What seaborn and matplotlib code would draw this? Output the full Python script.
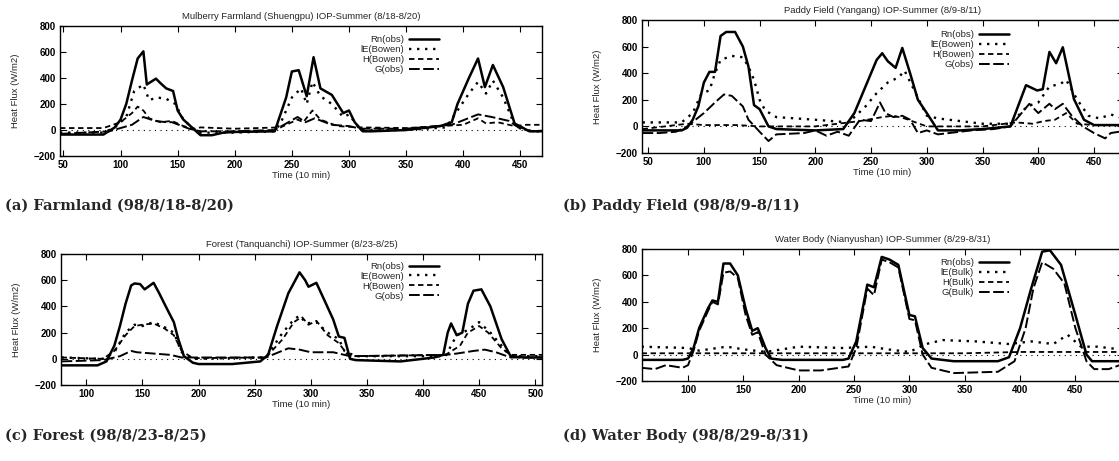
import matplotlib
matplotlib.use("Agg")
import matplotlib.pyplot as plt
import seaborn as sns
import pandas as pd

# ---------------- data ----------------
# Panel (a) Mulberry Farmland
A_RN_T = [47, 85, 95, 100, 105, 110, 115, 120, 123, 131, 135, 140, 146, 150, 155, 165, 170, 180, 190, 200, 235, 240, 245, 250, 256, 263, 269, 275, 285, 295, 300, 305, 312, 320, 350, 380, 390, 395, 405, 413, 419, 426, 435, 445, 458, 480]
A_RN = [-35, -35, 20, 80, 200, 380, 550, 605, 350, 395, 360, 320, 300, 150, 80, 0, -40, -40, -20, -15, -10, 120, 250, 450, 460, 260, 560, 320, 270, 130, 150, 60, -10, -10, 0, 30, 60, 200, 400, 550, 330, 500, 330, 50, -10, -10]
A_LE_T = [47, 85, 95, 105, 112, 120, 125, 132, 140, 148, 155, 165, 170, 200, 235, 240, 250, 258, 263, 268, 275, 285, 295, 300, 310, 350, 385, 395, 405, 413, 420, 426, 435, 445, 460, 480]
A_LE = [-20, -20, 20, 100, 300, 350, 230, 250, 240, 200, 80, 0, -20, -20, -10, 50, 250, 320, 200, 370, 260, 200, 100, 120, 0, 0, 20, 150, 280, 370, 280, 380, 250, 40, -10, -10]
A_H_T = [47, 85, 100, 110, 115, 120, 125, 135, 145, 155, 165, 170, 200, 240, 255, 260, 268, 275, 290, 310, 350, 400, 413, 420, 430, 445, 455, 480]
A_H = [15, 15, 60, 130, 180, 150, 90, 60, 70, 30, 10, 20, 10, 20, 80, 60, 150, 80, 30, 20, 15, 40, 90, 50, 60, 30, 40, 40]
A_G_T = [47, 90, 110, 120, 130, 140, 145, 160, 170, 200, 235, 255, 262, 270, 285, 300, 310, 350, 390, 413, 425, 440, 450, 460, 480]
A_G = [-30, -10, 40, 100, 70, 60, 60, 10, -10, -10, 0, 100, 60, 90, 40, 30, 10, 10, 40, 120, 100, 70, 10, -10, 0]

# Panel (b) Paddy Field
B_RN_T = [45, 80, 85, 90, 95, 100, 105, 110, 115, 120, 128, 135, 140, 145, 150, 158, 165, 200, 225, 235, 245, 255, 260, 265, 272, 278, 285, 292, 300, 310, 330, 350, 375, 389, 399, 404, 410, 416, 422, 432, 441, 450, 480]
B_RN = [-30, -30, -10, 50, 150, 330, 410, 410, 680, 710, 710, 600, 450, 160, 130, 0, -20, -30, -20, 100, 300, 500, 550, 490, 440, 590, 400, 200, 100, -30, -30, -20, 0, 310, 270, 280, 560, 475, 595, 205, 50, 10, 10]
B_LE_T = [45, 80, 90, 98, 105, 110, 115, 125, 135, 140, 145, 150, 155, 165, 200, 230, 245, 255, 265, 275, 280, 290, 300, 310, 350, 375, 390, 400, 410, 420, 425, 435, 445, 455, 465, 480]
B_LE = [30, 30, 100, 250, 270, 400, 500, 530, 520, 450, 350, 200, 120, 70, 50, 30, 150, 250, 330, 370, 420, 250, 80, 60, 20, 20, 150, 180, 300, 320, 350, 200, 80, 60, 90, 50]
B_H_T = [45, 85, 100, 130, 150, 200, 240, 260, 270, 280, 300, 350, 380, 395, 405, 415, 425, 435, 450, 480]
B_H = [-20, 20, 10, 10, 0, 0, 40, 70, 80, 60, 0, 0, 30, 20, 40, 50, 100, 20, 10, 10]
B_G_T = [45, 60, 75, 85, 100, 110, 118, 125, 135, 140, 150, 158, 165, 190, 200, 210, 220, 230, 240, 250, 258, 263, 270, 278, 285, 292, 300, 310, 320, 340, 360, 375, 385, 392, 400, 410, 415, 422, 430, 440, 450, 460, 465, 480]
B_G = [-50, -50, -40, 0, 100, 180, 240, 230, 150, 50, -40, -110, -60, -50, -30, -70, -40, -70, 50, 40, 180, 100, 70, 80, 50, -50, -30, -60, -50, -30, -20, 0, 100, 170, 100, 170, 130, 170, 80, 0, -50, -90, -50, -30]

# Panel (c) Forest
C_RN_T = [78, 110, 118, 125, 130, 135, 140, 143, 148, 152, 160, 165, 172, 178, 182, 187, 195, 200, 230, 255, 262, 270, 280, 290, 295, 298, 305, 312, 320, 325, 330, 335, 340, 380, 410, 418, 422, 425, 430, 435, 440, 445, 452, 460, 470, 478, 490, 506]
C_RN = [-50, -50, -20, 100, 250, 420, 560, 575, 570, 530, 580, 500, 380, 280, 150, 20, -30, -40, -40, -20, 30, 250, 500, 660, 600, 550, 580, 450, 300, 170, 160, 0, -10, -20, 10, 30, 200, 270, 180, 200, 420, 520, 530, 400, 150, 20, 10, 10]
C_LE_T = [78, 115, 125, 135, 143, 150, 160, 170, 178, 185, 195, 260, 275, 285, 290, 296, 305, 315, 325, 330, 340, 420, 430, 440, 450, 460, 470, 478, 506]
C_LE = [10, 0, 50, 200, 260, 250, 280, 240, 200, 50, 0, 10, 200, 300, 330, 270, 280, 200, 150, 60, 20, 20, 180, 220, 280, 200, 100, 20, 20]
C_H_T = [78, 115, 125, 135, 143, 150, 160, 170, 178, 185, 195, 260, 275, 285, 292, 298, 305, 315, 325, 332, 340, 420, 433, 440, 450, 458, 470, 478, 506]
C_H = [10, 0, 60, 180, 250, 260, 270, 230, 180, 60, 5, 10, 150, 280, 320, 260, 290, 180, 120, 40, 20, 30, 100, 200, 250, 200, 80, 30, 30]
C_G_T = [78, 115, 130, 140, 145, 160, 175, 185, 200, 260, 280, 290, 300, 320, 335, 420, 430, 445, 455, 465, 478, 506]
C_G = [-20, -10, 20, 60, 50, 40, 30, 10, 10, 10, 80, 70, 50, 50, 20, 30, 40, 60, 70, 50, 10, 10]

# Panel (d) Water Body
D_RN_T = [58, 95, 100, 105, 110, 118, 122, 127, 132, 138, 145, 152, 158, 163, 170, 175, 185, 240, 245, 252, 262, 268, 275, 282, 290, 300, 305, 312, 320, 340, 380, 390, 400, 410, 420, 427, 437, 450, 460, 465, 490]
D_RN = [-40, -40, -30, 50, 200, 350, 410, 400, 690, 690, 600, 350, 180, 200, 50, -30, -40, -40, -30, 100, 530, 510, 740, 720, 680, 300, 290, 50, -30, -50, -50, -20, 200, 500, 780, 790, 680, 300, 0, -50, -50]
D_LE_T = [58, 100, 110, 135, 150, 170, 200, 240, 265, 280, 300, 315, 330, 360, 390, 410, 430, 443, 455, 470, 490]
D_LE = [60, 50, 30, 60, 40, 20, 60, 50, 60, 40, 20, 80, 110, 100, 80, 100, 80, 150, 60, 60, 40]
D_H_T = [58, 100, 150, 250, 300, 350, 400, 450, 490]
D_H = [10, 10, 10, 10, 10, 10, 20, 20, 20]
D_G_T = [58, 70, 80, 95, 100, 105, 110, 118, 122, 127, 132, 138, 145, 152, 158, 163, 170, 180, 200, 220, 245, 252, 262, 268, 275, 282, 290, 300, 305, 312, 320, 340, 380, 395, 405, 412, 420, 430, 440, 450, 460, 467, 480, 490]
D_G = [-100, -110, -80, -100, -80, 30, 180, 330, 400, 380, 620, 630, 580, 300, 150, 170, 0, -80, -120, -120, -90, 50, 500, 450, 720, 700, 660, 270, 260, 0, -100, -140, -130, -50, 200, 500, 700, 650, 540, 200, -50, -110, -110, -80]

TITLES = ["Mulberry Farmland (Shuengpu) IOP-Summer (8/18-8/20)",
          "Paddy Field (Yangang) IOP-Summer (8/9-8/11)",
          "Forest (Tanquanchi) IOP-Summer (8/23-8/25)",
          "Water Body (Nianyushan) IOP-Summer (8/29-8/31)"]
CAPTIONS = ["(a) Farmland (98/8/18-8/20)", "(b) Paddy Field (98/8/9-8/11)",
            "(c) Forest (98/8/23-8/25)", "(d) Water Body (98/8/29-8/31)"]
LABELS_BOWEN = ["Rn(obs)", "lE(Bowen)", "H(Bowen)", "G(obs)"]
LABELS_BULK = ["Rn(obs)", "lE(Bulk)", "H(Bulk)", "G(Bulk)"]
Y_TICKS = [-200, 0, 200, 400, 600, 800]

# ---------------- figure ----------------
sns.set_style("ticks")
plt.rcParams['font.family'] = ['Liberation Sans', 'DejaVu Sans']

W, H = 1119, 461
fig = plt.figure(figsize=(W / 100, H / 100), dpi=100)

def px_axes(left, right, top, bottom):
    return fig.add_axes([left / W, 1 - bottom / H, (right - left) / W, (bottom - top) / H])

panels = [
    dict(box=(60, 542, 26, 156), xlim=(47, 469), xticks=range(50, 451, 50),
         series=[(A_RN_T, A_RN), (A_LE_T, A_LE), (A_H_T, A_H), (A_G_T, A_G)],
         labels=LABELS_BOWEN, leg=(0.786, 0.93), cap=(5, 206)),
    dict(box=(642, 1123, 20, 153), xlim=(44.5, 476), xticks=range(50, 451, 50),
         series=[(B_RN_T, B_RN), (B_LE_T, B_LE), (B_H_T, B_H), (B_G_T, B_G)],
         labels=LABELS_BOWEN, leg=(0.763, 0.925), cap=(563, 206)),
    dict(box=(61, 542, 254, 385), xlim=(77.5, 506), xticks=range(100, 501, 50),
         series=[(C_RN_T, C_RN), (C_LE_T, C_LE), (C_H_T, C_H), (C_G_T, C_G)],
         labels=LABELS_BOWEN, leg=(0.786, 0.94), cap=(5, 436)),
    dict(box=(642, 1123, 249, 381), xlim=(58.4, 493), xticks=range(100, 451, 50),
         series=[(D_RN_T, D_RN), (D_LE_T, D_LE), (D_H_T, D_H), (D_G_T, D_G)],
         labels=LABELS_BULK, leg=(0.763, 0.93), cap=(563, 436)),
]

styles = [dict(linestyle='-', linewidth=1.8),
          dict(linestyle=(0, (1, 2.4)), linewidth=1.7),
          dict(linestyle=(0, (3, 2)), linewidth=1.3),
          dict(linestyle=(0, (5.5, 1.8)), linewidth=1.4)]

for i, p in enumerate(panels):
    ax = px_axes(*p['box'])
    ax.axhline(0, color='black', linewidth=0.8, linestyle=(0, (1, 4)), zorder=1)
    for (t, v), lab, st in zip(p['series'], p['labels'], styles):
        df = pd.DataFrame({'t': t, 'v': v})
        sns.lineplot(data=df, x='t', y='v', ax=ax, color='black', label=lab,
                     estimator=None, sort=False, **st)
    ax.set_xlim(*p['xlim'])
    ax.set_ylim(-200, 800)
    ax.set_xticks(list(p['xticks']))
    ax.set_yticks(Y_TICKS)
    ax.tick_params(direction='in', top=True, right=True, length=4, width=0.8,
                   labelsize=7, pad=3, colors='black')
    for lbl in ax.get_xticklabels() + ax.get_yticklabels():
        lbl.set_fontweight('bold')
    for s in ax.spines.values():
        s.set_linewidth(1.0)
        s.set_color('black')
    ax.set_xlabel("Time (10 min)", fontsize=6.8, labelpad=0.5)
    ax.set_ylabel("Heat Flux (W/m2)", fontsize=6.8, labelpad=10)
    ax.set_title(TITLES[i], fontsize=6.8, pad=5)
    leg = ax.legend(loc='upper right', bbox_to_anchor=p['leg'], frameon=False,
                    markerfirst=False, fontsize=6.8, handlelength=3.2,
                    handletextpad=0.5, labelspacing=0.1, borderpad=0,
                    borderaxespad=0)
    fig.text(p['cap'][0] / W, 1 - p['cap'][1] / H, CAPTIONS[i],
             family='DejaVu Serif', fontweight='bold', fontsize=10.5,
             va='center', ha='left')

fig.savefig("out.png", dpi=100, facecolor='white')
